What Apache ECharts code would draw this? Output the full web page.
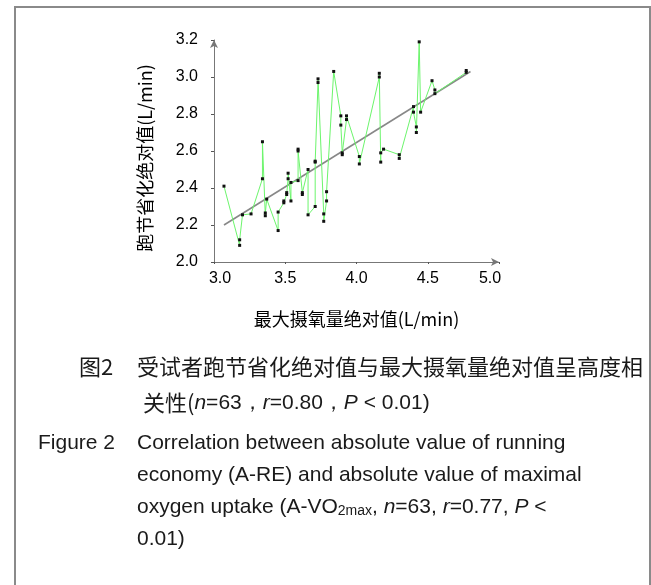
<!DOCTYPE html>
<html>
<head>
<meta charset="utf-8">
<script src="https://cdn.jsdelivr.net/npm/echarts@6/dist/echarts.min.js"></script>
<style>
  html, body { margin: 0; padding: 0; background: #fff; }
  #chart { width: 651px; height: 585px; }
</style>
</head>
<body>
<div id="chart"></div>
<script>
// 最大摄氧量绝对值 (L/min), in the order the green line joins them
var vo2max = [3.07, 3.18, 3.18, 3.20, 3.26, 3.34, 3.34, 3.36, 3.36, 3.37,
  3.45, 3.45, 3.49, 3.49, 3.51, 3.51, 3.52, 3.52, 3.54, 3.54,
  3.59, 3.59, 3.59, 3.62, 3.62, 3.66, 3.66, 3.71, 3.71, 3.71,
  3.73, 3.73, 3.77, 3.77, 3.79, 3.79, 3.84, 3.89, 3.89, 3.90,
  3.90, 3.93, 3.93, 4.02, 4.02, 4.16, 4.16, 4.17, 4.17, 4.19,
  4.30, 4.30, 4.40, 4.40, 4.42, 4.42, 4.44, 4.45, 4.53, 4.55,
  4.55, 4.77, 4.77];
// 跑节省化绝对值 (L/min)
var aRE = [2.41, 2.09, 2.12, 2.255, 2.26, 2.45, 2.65, 2.25, 2.265, 2.34,
  2.17, 2.27, 2.32, 2.33, 2.365, 2.375, 2.45, 2.48, 2.33, 2.43,
  2.44, 2.60, 2.61, 2.375, 2.365, 2.50, 2.255, 2.30, 2.54, 2.545,
  2.97, 2.99, 2.26, 2.22, 2.33, 2.38, 3.03, 2.79, 2.74, 2.59,
  2.58, 2.77, 2.79, 2.57, 2.53, 3.00, 3.02, 2.54, 2.59, 2.61,
  2.58, 2.56, 2.84, 2.81, 2.73, 2.70, 3.19, 2.81, 2.98, 2.93,
  2.91, 3.025, 3.035];
// fitted line ends
var fitX = [3.07, 4.80];
var fitY = [2.20, 3.03];

var xTicks = [3.0, 3.5, 4.0, 4.5, 5.0];
var yTicks = [2.0, 2.2, 2.4, 2.6, 2.8, 3.0, 3.2];

var points = vo2max.map(function (x, i) { return [x, aRE[i]]; });
var fitLine = fitX.map(function (x, i) { return [x, fitY[i]]; });

var latin = 'Liberation Sans, Arial, sans-serif';
var cjk = 'Noto Sans CJK SC, sans-serif';

function cap(x, y, text, size, fam) {
  return {
    type: 'text', x: x, y: y, silent: true,
    style: { text: text, fontFamily: fam, fontSize: size, fill: '#1a1a1a', verticalAlign: 'middle' }
  };
}

var tickFont = { fontFamily: latin, fontSize: 16, color: '#000' };

var option = {
  animation: false,
  backgroundColor: '#fff',
  grid: { left: 214, right: 152, top: 40, bottom: 323 },
  xAxis: {
    type: 'value',
    min: xTicks[0], max: xTicks[xTicks.length - 1], interval: 0.5,
    name: '最大摄氧量绝对值(L/min)',
    nameLocation: 'middle',
    nameGap: 48,
    nameTextStyle: { fontFamily: cjk, fontSize: 18, color: '#000' },
    axisLine: { lineStyle: { color: '#777', width: 1 }, symbol: ['none', 'arrow'], symbolSize: [6, 8] },
    axisTick: { show: true, length: 2, lineStyle: { color: '#555' } },
    axisLabel: {
      margin: 9, color: '#000', fontFamily: latin, fontSize: 16,
      formatter: function (v) {
        var s = v.toFixed(1);
        if (v === xTicks[0]) return '{l|' + s + '}';
        if (v === xTicks[xTicks.length - 1]) return '{r|' + s + '}';
        return s;
      },
      rich: {
        l: Object.assign({ padding: [0, 0, 0, 12] }, tickFont),
        r: Object.assign({ padding: [0, 18, 0, 0] }, tickFont)
      }
    },
    splitLine: { show: false }
  },
  yAxis: {
    type: 'value',
    min: yTicks[0], max: yTicks[yTicks.length - 1], interval: 0.2,
    name: '跑节省化绝对值(L/min)',
    nameLocation: 'middle',
    nameRotate: 90,
    nameGap: 60,
    nameTextStyle: { fontFamily: cjk, fontSize: 18, color: '#000', padding: [0, 14, 0, 0] },
    axisLine: { lineStyle: { color: '#777', width: 1 }, symbol: ['none', 'arrow'], symbolSize: [6, 8] },
    axisTick: { show: true, length: 3, lineStyle: { color: '#555' } },
    axisLabel: {
      margin: 16, color: '#000', fontFamily: latin, fontSize: 16,
      formatter: function (v) { return v.toFixed(1); }
    },
    splitLine: { show: false }
  },
  series: [
    {
      type: 'line',
      data: fitLine,
      symbol: 'none',
      lineStyle: { color: '#888', width: 1.6 },
      z: 2
    },
    {
      type: 'line',
      data: points,
      symbol: 'rect',
      symbolSize: 3,
      itemStyle: { color: '#111' },
      lineStyle: { color: '#6cf56c', width: 1 },
      z: 3
    }
  ],
  graphic: [
    {
      type: 'rect', silent: true,
      shape: { x: 15, y: 7, width: 635, height: 620 },
      style: { fill: 'none', stroke: '#8a8a8a', lineWidth: 2 }
    },
    cap(79, 367, '图2', 22, cjk),
    cap(137, 367, '受试者跑节省化绝对值与最大摄氧量绝对值呈高度相', 22, cjk),
    {
      type: 'text', x: 143, y: 403, silent: true,
      style: {
        text: '{c|关性(}{i|n}{a|=63，}{i|r}{a|=0.80，}{i|P}{a| < 0.01)}',
        verticalAlign: 'middle',
        rich: {
          c: { fontFamily: cjk, fontSize: 22, fill: '#1a1a1a' },
          a: { fontFamily: latin, fontSize: 21, fill: '#1a1a1a' },
          i: { fontFamily: latin, fontSize: 21, fontStyle: 'italic', fill: '#1a1a1a' }
        }
      }
    },
    cap(38, 443, 'Figure 2', 21, latin),
    cap(137, 443, 'Correlation between absolute value of running', 21, latin),
    cap(137, 475, 'economy (A-RE) and absolute value of maximal', 21, latin),
    {
      type: 'text', x: 137, y: 507, silent: true,
      style: {
        text: '{a|oxygen uptake (A-VO}{s|2max}{a|, }{i|n}{a|=63, }{i|r}{a|=0.77, }{i|P}{a| <}',
        verticalAlign: 'middle',
        rich: {
          a: { fontFamily: latin, fontSize: 21, fill: '#1a1a1a', lineHeight: 26, verticalAlign: 'middle' },
          i: { fontFamily: latin, fontSize: 21, fontStyle: 'italic', fill: '#1a1a1a', lineHeight: 26, verticalAlign: 'middle' },
          s: { fontFamily: latin, fontSize: 14, fill: '#1a1a1a', lineHeight: 26, verticalAlign: 'bottom', padding: [0, 0, 2, 0] }
        }
      }
    },
    cap(137, 539, '0.01)', 21, latin)
  ]
};

var myChart = echarts.init(document.getElementById('chart'));
myChart.setOption(option, true);
</script>
</body>
</html>
